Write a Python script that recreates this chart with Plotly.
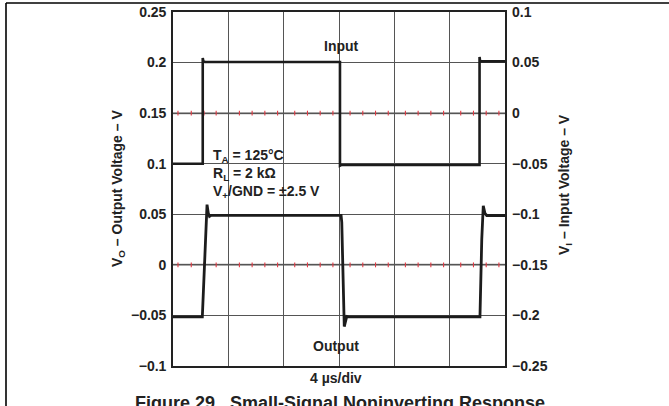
import plotly.graph_objects as go

# ---- data -------------------------------------------------------------
# time axis in microseconds (4 us per division, 6 divisions)
time_ticks = [0, 4, 8, 12, 16, 20, 24]

# input step (right axis, V)
t_in = [0, 2.15, 2.15, 2.19, 2.3, 12.07, 12.07, 12.12, 12.2, 22.16, 22.16, 22.2, 22.3, 24]
v_in = [-0.05, -0.05, 0.0546, 0.0515, 0.0506, 0.0506, -0.052, -0.0515, -0.0512, -0.0512,
        0.0556, 0.0515, 0.0512, 0.0512]

# output response (left axis, V)
t_out = [0, 2.12, 2.46, 2.55, 2.64, 2.75, 12.15, 12.2, 12.38, 12.47, 12.56, 12.7,
         22.19, 22.32, 22.43, 22.55, 22.68, 24]
v_out = [-0.0515, -0.0515, 0.0595, 0.051, 0.048, 0.049, 0.049, 0.042, -0.061, -0.054,
         -0.051, -0.0515, -0.0515, 0.025, 0.0585, 0.051, 0.0488, 0.0488]

left_ticks = [0.25, 0.2, 0.15, 0.1, 0.05, 0, -0.05, -0.1]
left_labels = ["0.25", "0.2", "0.15", "0.1", "0.05", "0", "\u22120.05", "\u22120.1"]
right_ticks = [0.1, 0.05, 0, -0.05, -0.1, -0.15, -0.2, -0.25]
right_labels = ["0.1", "0.05", "0", "\u22120.05", "\u22120.1", "\u22120.15", "\u22120.2", "\u22120.25"]

# reference levels carrying red minor ticks (left-axis values)
ref_levels = [0.15, 0.0]
minor_frac = [0.2, 0.43, 0.66, 0.89]
first_div_frac = [0.09, 0.33, 0.56, 0.78]

FONT = "Arial, 'Liberation Sans', Helvetica, sans-serif"

fig = go.Figure()

# light reference lines at 0.15 V and 0 V
for lvl in ref_levels:
    fig.add_shape(type="line", xref="x", yref="y", x0=0, x1=24, y0=lvl, y1=lvl,
                  line=dict(color="#8a8a8a", width=2), layer="below")

# red minor ticks along the reference lines
mx, my = [], []
for lvl in ref_levels:
    for d in range(6):
        fr = first_div_frac if d == 0 else minor_frac
        for f in fr:
            mx.append(4 * d + 4 * f)
            my.append(lvl)
fig.add_trace(go.Scatter(x=mx, y=my, mode="markers", yaxis="y",
                         marker=dict(symbol="line-ns", size=3.5,
                                     line=dict(color="#e23a44", width=1.1)),
                         hoverinfo="skip", showlegend=False))

fig.add_trace(go.Scatter(x=t_in, y=v_in, yaxis="y2", mode="lines",
                         line=dict(color="#1c1c1c", width=2.6), showlegend=False))
fig.add_trace(go.Scatter(x=t_out, y=v_out, yaxis="y", mode="lines",
                         line=dict(color="#1c1c1c", width=2.8), showlegend=False))

# outer frame (top and left edges)
L, R, T, B = 173, 505, 12, 366
W, H = R - L, B - T
def px(x):
    return (x - L) / W
def py(y):
    return (B - y) / H

fig.add_shape(type="line", xref="paper", yref="paper", x0=px(6), x1=px(669),
              y0=py(3), y1=py(3), line=dict(color="black", width=1.6))
fig.add_shape(type="line", xref="paper", yref="paper", x0=px(6), x1=px(6),
              y0=py(3), y1=py(410), line=dict(color="black", width=1.6))

ann = []
def text(x, y, s, size=14, xanchor="center", **kw):
    ann.append(dict(xref="paper", yref="paper", x=px(x), y=py(y), text=s, showarrow=False,
                    xanchor=xanchor, yanchor="middle",
                    font=dict(family=FONT, size=size, color="#222", weight="bold"), **kw))

text(341, 45.5, "Input")
text(336, 346, "Output")
text(336, 377.5, "4 \u00b5s/div")
text(211, 174, "T<sub>A</sub> = 125\u00b0C<br>R<sub>L</sub> = 2 k\u03a9<br>V<sub>+</sub>/GND = \u00b12.5 V",
     xanchor="left", align="left")
text(118, 189, "V<sub>O</sub> \u2013 Output Voltage \u2013 V", textangle=-90)
text(565, 185, "V<sub>I</sub> \u2013 Input Voltage \u2013 V", textangle=-90)
text(340, 402.5, "Figure 29.\u00a0\u00a0Small-Signal Noninverting Response", size=18)

fig.update_layout(
    width=669, height=406,
    margin=dict(l=L, r=669 - R, t=T, b=406 - B, autoexpand=False),
    paper_bgcolor="white", plot_bgcolor="white",
    font=dict(family=FONT, size=14, color="#222", weight="bold"),
    annotations=ann,
    xaxis=dict(range=[0, 24], tickvals=time_ticks, showticklabels=False, automargin=False,
               showgrid=True, gridcolor="#555", gridwidth=1, zeroline=False,
               showline=True, linecolor="#222", linewidth=1.6, mirror=True, ticks=""),
    yaxis=dict(range=[-0.1, 0.25], tickvals=left_ticks, ticktext=left_labels, automargin=False,
               showgrid=True, gridcolor="#555", gridwidth=1, zeroline=False,
               showline=True, linecolor="#222", linewidth=1.6, mirror=True, ticks="",
               ticklabelstandoff=2,
               tickfont=dict(family=FONT, size=14, color="#222", weight="bold")),
    yaxis2=dict(range=[-0.25, 0.1], tickvals=right_ticks, ticktext=right_labels,
                automargin=False,
                overlaying="y", side="right", showgrid=False, zeroline=False,
                showline=False, ticks="", ticklabelstandoff=6,
                tickfont=dict(family=FONT, size=14, color="#222", weight="bold")),
)

fig.write_html("out.html")
